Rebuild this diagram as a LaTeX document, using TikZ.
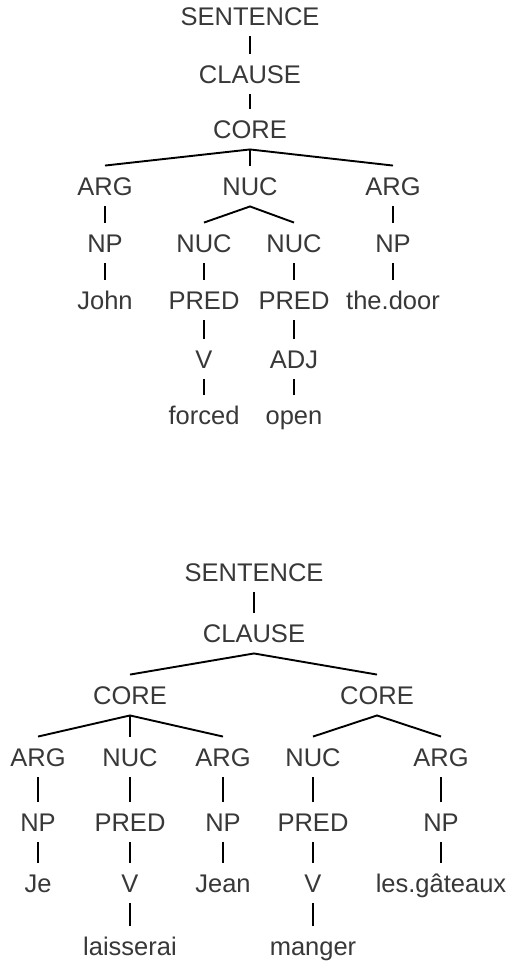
\documentclass[tikz,border=0pt]{standalone}
\usepackage{fontspec}
\setmainfont{Liberation Sans}
\begin{document}
\begin{tikzpicture}[x=1pt,y=-1pt,
  lab/.style={font=\fontsize{25.5}{30}\selectfont, text=black!78, text height=18.5pt, text depth=0pt, inner xsep=0pt, inner ysep=11pt, anchor=center},
  vline/.style={line width=1.1pt, black},
  bline/.style={line width=1.9pt, black}]
\useasboundingbox[fill=white] (0,0) rectangle (510,962);
% ---------- top tree ----------
\node[lab] (s1) at (250,16) {SENTENCE};
\node[lab] (c1) at (250,74) {CLAUSE};
\node[lab] (co1) at (250,129) {CORE};
\node[lab] (a1) at (105,186) {ARG};
\node[lab] (n1) at (250,186) {NUC};
\node[lab] (a2) at (393,186) {ARG};
\node[lab] (np1) at (105,243) {NP};
\node[lab] (nn1) at (204,243) {NUC};
\node[lab] (nn2) at (294,243) {NUC};
\node[lab] (np2) at (393,243) {NP};
\node[lab] (john) at (105,300) {John};
\node[lab] (p1) at (204,300) {PRED};
\node[lab] (p2) at (294,300) {PRED};
\node[lab] (door) at (393,300) {the.door};
\node[lab] (v1) at (204,359) {V};
\node[lab] (adj) at (294,359) {ADJ};
\node[lab] (forced) at (204,415) {forced};
\node[lab] (open) at (294,415) {open};
\draw[vline] (s1.south) -- (c1.north);
\draw[vline] (c1.south) -- (co1.north);
\draw[bline] (a1.north) -- (co1.south) -- (a2.north);
\draw[vline] (co1.south) -- (n1.north);
\draw[bline] (nn1.north) -- (n1.south) -- (nn2.north);
\draw[vline] (a1.south) -- (np1.north);
\draw[vline] (a2.south) -- (np2.north);
\draw[vline] (np1.south) -- (john.north);
\draw[vline] (np2.south) -- (door.north);
\draw[vline] (nn1.south) -- (p1.north);
\draw[vline] (nn2.south) -- (p2.north);
\draw[vline] (p1.south) -- (v1.north);
\draw[vline] (p2.south) -- (adj.north);
\draw[vline] (v1.south) -- (forced.north);
\draw[vline] (adj.south) -- (open.north);
% ---------- bottom tree ----------
\node[lab] (s2) at (254,572) {SENTENCE};
\node[lab] (c2) at (254,633) {CLAUSE};
\node[lab] (coa) at (130,695) {CORE};
\node[lab] (cob) at (377,695) {CORE};
\node[lab] (b1) at (38,757) {ARG};
\node[lab] (b2) at (130,757) {NUC};
\node[lab] (b3) at (223,757) {ARG};
\node[lab] (b4) at (313,757) {NUC};
\node[lab] (b5) at (441,757) {ARG};
\node[lab] (d1) at (38,822) {NP};
\node[lab] (d2) at (130,822) {PRED};
\node[lab] (d3) at (223,822) {NP};
\node[lab] (d4) at (313,822) {PRED};
\node[lab] (d5) at (441,822) {NP};
\node[lab] (e1) at (38,883) {Je};
\node[lab] (e2) at (130,883) {V};
\node[lab] (e3) at (223,883) {Jean};
\node[lab] (e4) at (313,883) {V};
\node[lab] (e5) at (441,883) {les.gâteaux};
\node[lab] (f2) at (130,946) {laisserai};
\node[lab] (f4) at (313,946) {manger};
\draw[vline] (s2.south) -- (c2.north);
\draw[bline] (coa.north) -- (c2.south) -- (cob.north);
\draw[bline] (b1.north) -- (coa.south) -- (b3.north);
\draw[vline] (coa.south) -- (b2.north);
\draw[bline] (b4.north) -- (cob.south) -- (b5.north);
\foreach \i in {1,...,5} {
  \draw[vline] (b\i.south) -- (d\i.north);
  \draw[vline] (d\i.south) -- (e\i.north);
}
\draw[vline] (e2.south) -- (f2.north);
\draw[vline] (e4.south) -- (f4.north);
\end{tikzpicture}
\end{document}
